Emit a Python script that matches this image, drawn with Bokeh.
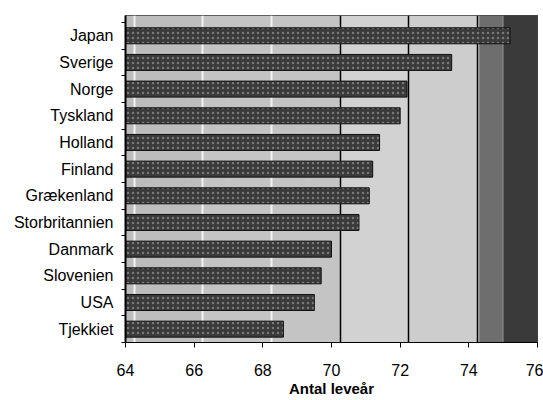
from bokeh.plotting import figure
from bokeh.models import FixedTicker, BoxAnnotation, ColumnDataSource, Grid
from bokeh.embed import file_html
from bokeh.resources import INLINE

countries = ["Japan", "Sverige", "Norge", "Tyskland", "Holland", "Finland",
             "Grækenland", "Storbritannien", "Danmark", "Slovenien", "USA", "Tjekkiet"]
values = [75.2, 73.5, 72.2, 72.0, 71.4, 71.2, 71.1, 70.8, 70.0, 69.7, 69.5, 68.6]
x_ticks = [64, 66, 68, 70, 72, 74, 76]

n = len(countries)
ypos = [n - i - 0.5 for i in range(n)]
src = ColumnDataSource(dict(y=ypos, v=values, name=countries))

depth = 0.25  # 3D back-wall offset of the grid
p = figure(width=543, height=400, output_backend="svg", toolbar_location=None,
           x_range=(64, 76), y_range=(0, n + 0.26),
           min_border_left=125, min_border_right=6, min_border_top=15, min_border_bottom=58)

# background shading (light speckled to dark at right)
bands = [(64, 66.25, "#bdbdbd"), (66.25, 70.25, "#c4c4c4"), (70.25, 72.25, "#d2d2d2"),
         (72.25, 74.3, "#cdcdcd"), (74.3, 75.0, "#6e6e6e"), (75.0, 76, "#3a3a3a")]
for l, r, c in bands:
    p.add_layout(BoxAnnotation(left=l, right=r, fill_color=c, fill_alpha=1.0, level="image"))

p.hbar(y="y", left=64, right="v", height=0.6, source=src,
       fill_color="#3a3a3a", line_color="#111111", line_width=1,
       hatch_pattern="dot", hatch_color="#a0a0a0", hatch_scale=5, hatch_alpha=0.6)

p.xaxis.ticker = FixedTicker(ticks=x_ticks)
p.xaxis.axis_label = "Antal leveår"
p.xaxis.axis_label_text_font = "Liberation Sans"
p.xaxis.axis_label_text_font_style = "bold"
p.xaxis.axis_label_text_font_size = "15px"
p.xaxis.axis_label_text_color = "black"
p.xaxis.axis_label_standoff = 1
p.xaxis.major_label_text_font = "Liberation Sans"
p.xaxis.major_label_text_font_size = "16px"
p.xaxis.major_label_text_color = "black"
p.xaxis.major_label_standoff = 16
p.xaxis.major_tick_out = 5
p.xaxis.major_tick_in = 0
p.xaxis.minor_tick_out = 0
p.xaxis.axis_line_color = "black"
p.xaxis.major_tick_line_color = "black"

p.yaxis.ticker = FixedTicker(ticks=ypos, minor_ticks=list(range(n + 1)))
p.yaxis.major_label_overrides = {y: c for y, c in zip(ypos, countries)}
p.yaxis.major_label_text_font = "Liberation Sans"
p.yaxis.major_label_text_font_size = "16px"
p.yaxis.major_label_text_color = "black"
p.yaxis.major_label_standoff = 8
p.yaxis.major_tick_out = 0
p.yaxis.major_tick_in = 0
p.yaxis.minor_tick_out = 4
p.yaxis.minor_tick_in = 0
p.yaxis.minor_tick_line_color = "black"
p.yaxis.axis_line_color = "black"
p.yaxis.axis_line_width = 2

grid_pos = [t + depth for t in x_ticks]
p.xgrid.ticker = FixedTicker(ticks=[g for g in grid_pos if g > 70])
p.xgrid.grid_line_color = "black"
p.xgrid.grid_line_width = 1.5
p.add_layout(Grid(dimension=0, ticker=FixedTicker(ticks=[g for g in grid_pos if g < 70]),
                  grid_line_color="#f2f2f2", grid_line_width=2))
p.ygrid.grid_line_color = None
p.outline_line_color = "#222222"
p.background_fill_color = "#cccccc"
p.border_fill_color = "white"

open("out.html", "w").write(file_html(p, INLINE))
